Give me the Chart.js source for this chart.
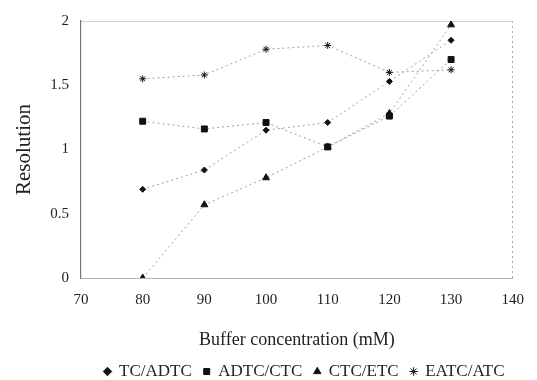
<!DOCTYPE html>
<html>
<head>
<meta charset="utf-8">
<script src="https://cdn.jsdelivr.net/npm/chart.js@4.4.1/dist/chart.umd.min.js"></script>
<style>
  html, body { margin: 0; padding: 0; background: #fff; }
  #wrap { width: 537px; height: 380px; }
</style>
</head>
<body>
<div id="wrap"><canvas id="resChart"></canvas></div>
<script>
// Resolution vs buffer concentration, four peak pairs

const concentrations = [80, 90, 100, 110, 120, 130];
const seriesNames = ["TC/ADTC", "ADTC/CTC", "CTC/ETC", "EATC/ATC"];

const tcAdtc   = [0.69, 0.84, 1.15, 1.21, 1.53, 1.85];
const adtcCtc  = [1.22, 1.16, 1.21, 1.02, 1.26, 1.70];
const ctcEtc   = [0.00, 0.57, 0.78, 1.02, 1.28, 1.97];
const eatcAtc  = [1.55, 1.58, 1.78, 1.81, 1.60, 1.62];

const xTicks = [70, 80, 90, 100, 110, 120, 130, 140];
const yTicks = [0, 0.5, 1, 1.5, 2];

Chart.defaults.font.family = "'Liberation Serif', 'DejaVu Serif', serif";
Chart.defaults.color = "#222";

const toPoints = (vals) => vals.map((v, i) => ({ x: concentrations[i], y: v }));

const markers = [
    { style: "rectRot", radius: 3 },
    { style: "rect", radius: 4.2 },
    { style: "triangle", radius: 4 },
    { style: "star", radius: 3.5 }
];

const allSeries = [tcAdtc, adtcCtc, ctcEtc, eatcAtc];

const datasets = allSeries.map((vals, i) => ({
    label: seriesNames[i],
    data: toPoints(vals),
    borderColor: "#a0a0a0",
    borderWidth: 1,
    borderDash: [2, 3],
    pointStyle: markers[i].style,
    pointRadius: markers[i].radius,
    pointBackgroundColor: "#111",
    pointBorderColor: "#111",
    pointBorderWidth: 1,
    fill: false,
    tension: 0
}));

// fixed legend height, and the legend row sits a bit right of centre
const LEGEND_H = 29, LEGEND_DX = 38;
let legendMoved = false;
const legendTweak = {
    id: "legendTweak",
    beforeLayout(chart) {
        const lg = chart.legend;
        if (!lg || lg._fixedFit) return;
        const fit = lg.fit;
        lg.fit = function () { fit.call(this); this.height = LEGEND_H; };
        lg._fixedFit = true;
    },
    afterUpdate() { legendMoved = false; },
    beforeDraw(chart) {
        const lg = chart.legend;
        if (legendMoved || !lg) return;
        lg.left += LEGEND_DX;
        lg.right += LEGEND_DX;
        legendMoved = true;
    }
};

new Chart(document.getElementById("resChart"), {
    type: "line",
    data: { datasets: datasets },
    plugins: [legendTweak],
    options: {
        responsive: true,
        maintainAspectRatio: false,
        animation: false,
        layout: { padding: { top: 12, right: 4, left: 0, bottom: 0 } },
        plugins: {
            tooltip: { enabled: false },
            legend: {
                position: "bottom",
                labels: {
                    usePointStyle: true,
                    boxWidth: 6,
                    boxHeight: 6,
                    padding: 12,
                    font: { size: 17 },
                    color: "#222"
                }
            }
        },
        scales: {
            x: {
                type: "linear",
                min: 70,
                max: 140,
                afterBuildTicks: (axis) => { axis.ticks = xTicks.map(v => ({ value: v })); },
                afterFit: (axis) => { axis.height = 73; },
                grid: {
                    drawTicks: false,
                    color: (ctx) => ctx.tick && ctx.tick.value === 140 ? "#aaa" : "transparent"
                },
                border: { display: true, color: "#b5b5b5", dash: [2, 3] },
                ticks: { padding: 13, font: { size: 15 }, color: "#222" },
                title: {
                    display: true,
                    text: "Buffer concentration (mM)",
                    font: { size: 18 },
                    color: "#222",
                    padding: { top: 8, bottom: 0 }
                }
            },
            y: {
                min: 0,
                max: 2,
                afterBuildTicks: (axis) => { axis.ticks = yTicks.map(v => ({ value: v })); },
                afterFit: (axis) => { axis.width = 81; },
                grid: {
                    drawTicks: false,
                    color: (ctx) => ctx.tick && ctx.tick.value === 2 ? "#d0d0d0" : "transparent"
                },
                border: { display: true, color: "#777", width: 1.2 },
                ticks: {
                    padding: 12,
                    font: { size: 15 },
                    color: "#222",
                    callback: (v) => String(v)
                },
                title: {
                    display: true,
                    text: "Resolution",
                    font: { size: 21 },
                    color: "#222",
                    padding: { top: 12, bottom: 0 }
                }
            }
        }
    }
});
</script>
</body>
</html>
